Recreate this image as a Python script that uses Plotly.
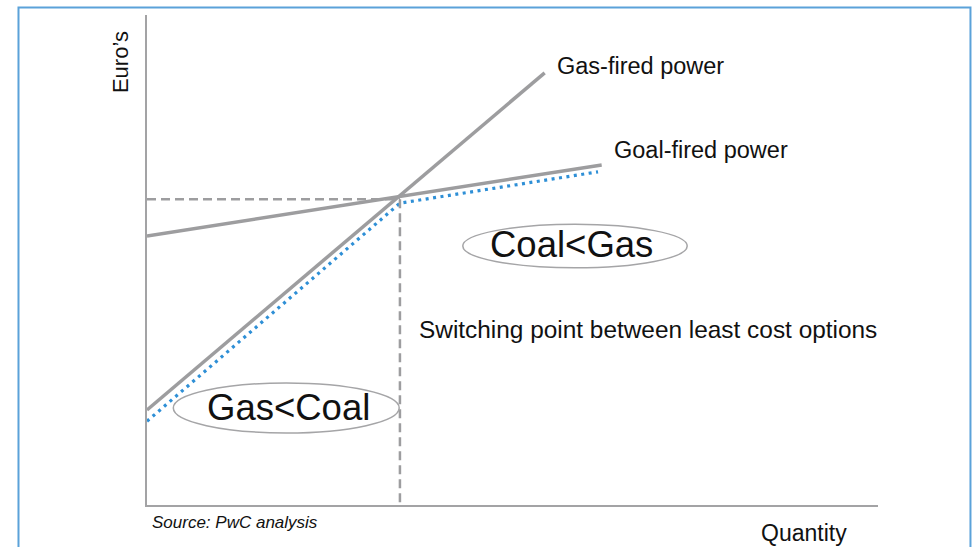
import plotly.graph_objects as go

# Cost curves (quantity on x, euros on y), axis range 0-100 on both
gas_q = [0, 54.4]
gas_cost = [19.4, 88.2]

coal_q = [0, 62.2]
coal_cost = [54.9, 69.4]

least_cost_q = [0, 34.6, 61.7]
least_cost = [17.1, 61.6, 68.0]

switch_q = 34.6
switch_cost = 62.4

FONT = "Liberation Sans, Arial, sans-serif"
GREY = "#9d9d9f"
BLUE = "#2e8fd6"

fig = go.Figure()

fig.add_trace(go.Scatter(x=gas_q, y=gas_cost, mode="lines",
                         line=dict(color=GREY, width=3.5), hoverinfo="skip"))
fig.add_trace(go.Scatter(x=coal_q, y=coal_cost, mode="lines",
                         line=dict(color=GREY, width=3.5), hoverinfo="skip"))
fig.add_trace(go.Scatter(x=least_cost_q, y=least_cost, mode="lines",
                         line=dict(color=BLUE, width=3.2, dash="3px,4.5px"), hoverinfo="skip"))
# switching point guides
fig.add_trace(go.Scatter(x=[0, switch_q], y=[switch_cost, switch_cost], mode="lines",
                         line=dict(color=GREY, width=2.5, dash="9px,5px"), hoverinfo="skip"))
fig.add_trace(go.Scatter(x=[switch_q, switch_q], y=[switch_cost, 0], mode="lines",
                         line=dict(color=GREY, width=2.5, dash="9px,5px"), hoverinfo="skip"))

shapes = [
    # outer frame
    dict(type="rect", xref="paper", yref="paper",
         x0=-0.1758, x1=1.1265, y0=-0.12, y1=1.0153,
         line=dict(color="#5ba2d9", width=2), fillcolor="rgba(0,0,0,0)", layer="below"),
    # region ellipses
    dict(type="circle", xref="x", yref="y", x0=43.2, x1=73.9, y0=48.4, y1=57.3,
         line=dict(color="#a5a5a7", width=1.5)),
    dict(type="circle", xref="x", yref="y", x0=3.6, x1=34.5, y0=14.7, y1=24.9,
         line=dict(color="#a5a5a7", width=1.5)),
]

annotations = [
    dict(x=55.8, y=89.6, text="Gas-fired power", xanchor="left", yanchor="middle",
         showarrow=False, font=dict(size=23.5, color="#111")),
    dict(x=63.6, y=72.4, text="Goal-fired power", xanchor="left", yanchor="middle",
         showarrow=False, font=dict(size=23.5, color="#111")),
    dict(x=36.9, y=35.9, text="Switching point between least cost options", xanchor="left",
         yanchor="middle", showarrow=False, font=dict(size=24.4, color="#111")),
    dict(x=58.1, y=53.1, text="Coal&lt;Gas", xanchor="center", yanchor="middle",
         showarrow=False, font=dict(size=36.5, color="#111")),
    dict(x=19.3, y=19.8, text="Gas&lt;Coal", xanchor="center", yanchor="middle",
         showarrow=False, font=dict(size=36.5, color="#111")),
    dict(xref="paper", yref="paper", x=-0.0369, y=0.904, text="Euro’s", textangle=-90,
         xanchor="center", yanchor="middle", showarrow=False, font=dict(size=22, color="#111")),
    dict(xref="paper", yref="paper", x=0.899, y=-0.0571, text="Quantity",
         xanchor="center", yanchor="middle", showarrow=False, font=dict(size=23, color="#111")),
    dict(xref="paper", yref="paper", x=0.0041, y=-0.0347, text="<i>Source: PwC analysis</i>",
         xanchor="left", yanchor="middle", showarrow=False, font=dict(size=17, color="#111")),
]

fig.update_layout(
    width=972, height=547,
    margin=dict(l=147, r=94, t=15, b=42),
    paper_bgcolor="white", plot_bgcolor="white",
    showlegend=False,
    font=dict(family=FONT),
    shapes=shapes,
    annotations=annotations,
    xaxis=dict(range=[0, 100], showgrid=False, zeroline=False, showticklabels=False,
               ticks="", showline=True, linecolor="#a3a3a5", linewidth=2),
    yaxis=dict(range=[0, 100], showgrid=False, zeroline=False, showticklabels=False,
               ticks="", showline=True, linecolor="#a3a3a5", linewidth=2),
)

fig.write_html("out.html")
